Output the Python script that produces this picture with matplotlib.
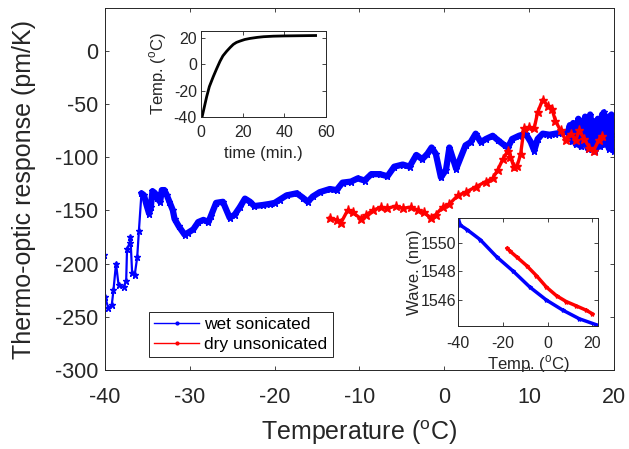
import numpy as np
import matplotlib
matplotlib.use('Agg')
import matplotlib.pyplot as plt
from matplotlib.lines import Line2D

plt.rcParams['font.family'] = ['Liberation Sans', 'DejaVu Sans']
plt.rcParams['mathtext.fontset'] = 'custom'
plt.rcParams['mathtext.rm'] = 'Liberation Sans'
plt.rcParams['axes.unicode_minus'] = False
txt = '#262626'

# thermo-optic response vs temperature, wet sonicated sample
wet_T = [-40.1, -40.0, -39.6, -39.2, -39.0, -38.7, -38.4, -37.8, -37.5, -37.4, -37.1, -37.0,
         -36.8, -36.5, -36.2, -36.0, -35.7, -35.4, -35.1, -34.8, -34.6, -34.4, -34.1, -33.9,
         -33.5, -33.3, -33.0, -32.7, -32.4, -32.0, -31.8, -31.3, -30.6, -30.2, -29.6, -29.0,
         -28.4, -27.8, -27.5, -26.9, -26.1, -25.3, -24.7, -24.1, -23.5, -22.9, -22.4, -21.4,
         -20.6, -20.0, -19.4, -18.6, -17.4, -16.7, -16.1, -15.5, -14.7, -13.5, -12.7, -12.0,
         -11.0, -10.2, -9.4, -8.6, -7.6, -6.7, -5.9, -4.9, -4.1, -3.3, -2.6, -2.0, -1.5,
         -1.0, -0.4, 0.2, 0.6, 1.4, 2.5, 3.1, 3.7, 4.3, 4.9, 5.7, 6.3, 7.1, 7.5, 8.0, 8.8,
         9.6, 10.2, 10.6, 11.0, 11.6, 12.4, 13.1, 13.9, 14.6, 14.8, 14.9, 15.0, 15.1, 15.2,
         15.3, 15.4, 15.5, 15.6, 15.7, 15.8, 15.9, 16.0, 16.1, 16.2, 16.3, 16.4, 16.5, 16.6,
         16.7, 16.8, 16.9, 17.0, 17.1, 17.2, 17.3, 17.4, 17.5, 17.6, 17.7, 17.8, 17.9, 18.0,
         18.1, 18.2, 18.3, 18.4, 18.5, 18.6, 18.7, 18.8, 18.9, 19.0, 19.1, 19.2, 19.3, 19.4,
         19.5, 19.6, 19.7, 19.8, 19.9, 19.95, 20.0]
wet_R = [-192, -231, -242, -239, -225, -200, -220, -222, -216, -186, -181, -175,
         -209, -211, -194, -169, -134, -136, -145, -153, -147, -132, -134, -138,
         -142, -131, -131, -136, -142, -150, -158, -165, -173, -171, -168, -161,
         -159, -161, -155, -143, -142, -157, -154, -147, -139, -142, -146, -145,
         -144, -143, -140, -136, -134, -138, -142, -137, -133, -130, -131, -124,
         -123, -120, -122, -116, -116, -118, -109, -107, -109, -98, -102, -97, -91,
         -97, -119, -112, -91, -111, -89, -86, -78, -86, -83, -80, -84, -89, -91, -83, -80,
         -78, -86, -94, -83, -78, -79, -78, -77, -76, -70, -82, -72, -85, -68,
         -80, -74, -88, -70, -78, -64, -82, -72, -90, -66, -80, -70, -85, -62,
         -78, -72, -92, -68, -82, -60, -76, -88, -66, -80, -72, -94, -70, -78,
         -64, -86, -68, -90, -74, -60, -82, -58, -76, -88, -66, -80, -62, -92,
         -70, -84, -60, -78, -66, -94, -72]

# dry unsonicated sample
dry_T = [-13.5, -12.7, -12.2, -11.4, -10.8, -9.8, -9.2, -8.4, -7.5, -6.7, -5.7, -4.9,
         -3.9, -3.1, -2.4, -1.6, -1.0, -0.2, 0.6, 1.6, 2.5, 3.7, 4.9, 5.7, 6.3, 6.9, 7.5,
         7.8, 8.2, 8.6, 9.0, 9.4, 10.0, 10.6, 11.0, 11.6, 12.2, 12.7, 13.1, 13.7, 14.3,
         14.9, 15.5, 15.9, 16.5, 17.1, 17.6, 18.2, 18.6]
dry_R = [-157, -159, -162, -150, -152, -158, -154, -150, -147, -148, -146, -148,
         -147, -150, -152, -157, -154, -147, -144, -136, -133, -128, -123, -120, -112, -102, -94,
         -100, -109, -108, -97, -73, -72, -73, -58, -46, -52, -55, -66, -75, -84,
         -78, -84, -75, -83, -91, -94, -84, -80]

# chamber temperature during warm-up
time_min = [0.5, 1.5, 2.7, 4.0, 5.9, 7.5, 9.1, 10.5, 12.3, 14.0, 15.5, 17.0, 18.7, 21.0,
            23.5, 27.0, 30.0, 34.7, 40.0, 45.0, 50.0, 55.0]
time_T = [-40, -33, -24.7, -17, -9.4, -3.5, 2.1, 6.2, 9.7, 12.6, 14.9, 16.4, 17.4, 18.6,
          19.4, 20.2, 20.7, 21.1, 21.3, 21.4, 21.5, 21.6]

# resonance wavelength vs temperature
wave_T_wet = [-40.0, -38.9, -36.0, -30.1, -22.7, -15.3, -7.9, -0.5, 6.8, 14.2, 21.5]
wave_wet = [1551.7, 1551.2, 1550.9, 1550.2, 1549.0, 1548.0, 1546.9, 1546.0, 1545.3, 1544.7, 1544.3]
wave_T_dry = [-18.0, -16.8, -13.8, -9.4, -5.0, -0.5, 4.0, 8.3, 12.8, 17.2, 20.0]
wave_dry = [1549.6, 1549.4, 1549.0, 1548.4, 1547.7, 1546.9, 1546.3, 1545.9, 1545.6, 1545.3, 1545.05]


def style_box(ax, size, xpad, ypad):
    ax.tick_params(direction='in', top=True, right=True, labelsize=size,
                   colors=txt, length=3, width=0.6)
    ax.tick_params(axis='x', pad=xpad)
    ax.tick_params(axis='y', pad=ypad)
    for s in ax.spines.values():
        s.set_color(txt)
        s.set_linewidth(0.7)


fig = plt.figure(figsize=(6.29, 4.49), dpi=100)
ax = fig.add_axes([0.1669, 0.1759, 0.8092, 0.8062])

wT = np.array(wet_T)
wR = np.array(wet_R)
ax.plot(wT, wR, color='blue', lw=1.6, marker='*', ms=4.5)
dense = wT > -35.8
ax.plot(wT[dense], wR[dense], color='blue', lw=4.5, solid_capstyle='round')
ax.plot(dry_T, dry_R, color='red', lw=2.4, marker='*', ms=6.5)

ax.set_xlim(-40, 20)
ax.set_ylim(-300, 40)
ax.set_xticks([-40, -30, -20, -10, 0, 10, 20])
ax.set_yticks([-300, -250, -200, -150, -100, -50, 0])
style_box(ax, 15.5, 12, 5)
ax.set_xlabel(r'Temperature ($^{\rm o}$C)', fontsize=18, color=txt, labelpad=8)
ax.set_ylabel('Thermo-optic response (pm/K)', fontsize=18, color=txt, labelpad=13)

handles = [Line2D([], [], color='blue', lw=1, marker='.', ms=4),
           Line2D([], [], color='red', lw=1, marker='.', ms=4)]
leg = ax.legend(handles, ['wet sonicated', 'dry unsonicated'], loc='lower left',
                bbox_to_anchor=(0.086, 0.036), fontsize=12.5, fancybox=False,
                framealpha=1, borderpad=0.3, handlelength=2.6, handletextpad=0.3,
                labelspacing=0.25, borderaxespad=0)
leg.get_frame().set_edgecolor(txt)
leg.get_frame().set_linewidth(0.7)

# inset: warm-up curve
a1 = fig.add_axes([0.3196, 0.7394, 0.1987, 0.1915])
a1.plot(time_min, time_T, color='black', lw=2)
a1.set_xlim(0, 60)
a1.set_ylim(-40, 25)
a1.set_xticks([0, 20, 40, 60])
a1.set_yticks([-40, -20, 0, 20])
style_box(a1, 11.5, 6, 3)
a1.set_xlabel('time (min.)', fontsize=12, color=txt, labelpad=4)
a1.set_ylabel(r'Temp. ($^{\rm o}$C)', fontsize=12, color=txt, labelpad=3)

# inset: wavelength shift
a2 = fig.add_axes([0.7281, 0.2739, 0.2226, 0.2405])
a2.plot(wave_T_wet, wave_wet, color='blue', lw=2.5, marker='*', ms=3)
a2.plot(wave_T_dry, wave_dry, color='red', lw=2.5, marker='*', ms=3)
a2.set_xlim(-40, 22.5)
a2.set_ylim(1544.2, 1551.7)
a2.set_xticks([-40, -20, 0, 20])
a2.set_yticks([1546, 1548, 1550])
style_box(a2, 11.5, 7, 1)
a2.set_xlabel(r'Temp. ($^{\rm o}$C)', fontsize=12, color=txt, labelpad=2)
a2.set_ylabel('Wave. (nm)', fontsize=12, color=txt, labelpad=-1)

fig.savefig('out.png', dpi=100)
